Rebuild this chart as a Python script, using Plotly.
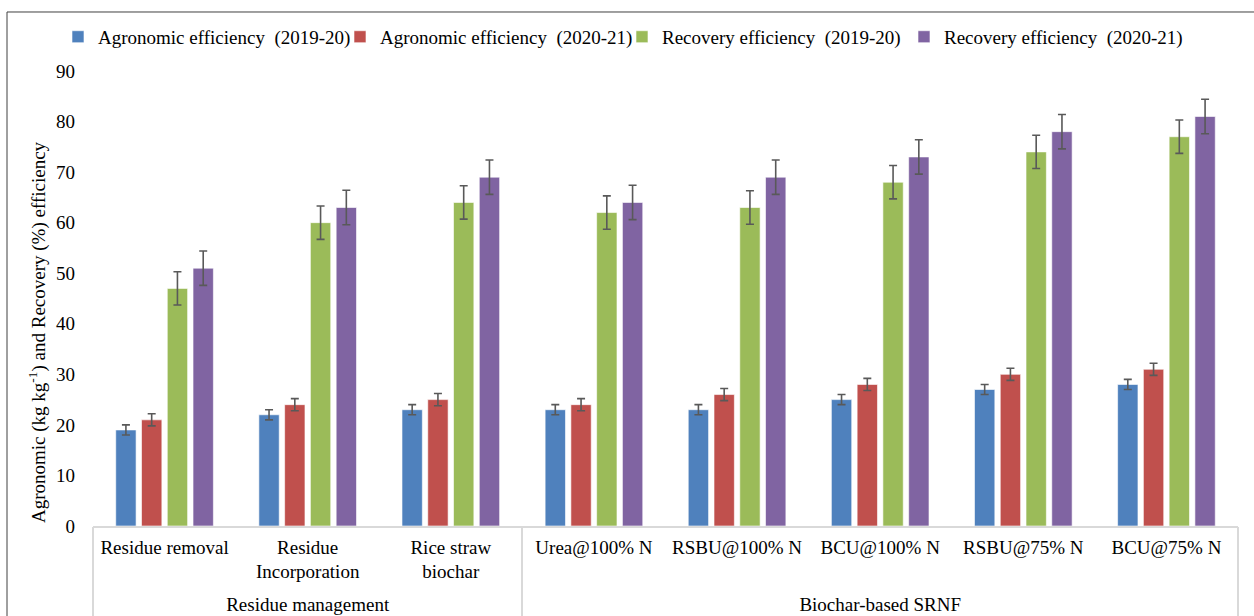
import plotly.graph_objects as go

# Treatments and the management group each belongs to
treatments = [
    "Residue removal",
    "Residue<br>Incorporation",
    "Rice straw<br>biochar",
    "Urea@100% N",
    "RSBU@100% N",
    "BCU@100% N",
    "RSBU@75% N",
    "BCU@75% N",
]
group_names = ["Residue management", "Biochar-based SRNF"]
group_sizes = [3, 5]

# Efficiency values per series
agro_2019 = [19, 22, 23, 23, 23, 25, 27, 28]
agro_2020 = [21, 24, 25, 24, 26, 28, 30, 31]
reco_2019 = [47, 60, 64, 62, 63, 68, 74, 77]
reco_2020 = [51, 63, 69, 64, 69, 73, 78, 81]

# Error bar half-lengths
agro_2019_err = [1.0] * 8
agro_2020_err = [1.2] * 8
reco_2019_err = [3.3] * 8
reco_2020_err = [3.4] * 8

NB = "\u00a0"
series = [
    (f"Agronomic efficiency{NB} (2019-20)", agro_2019, agro_2019_err, "#4F81BD"),
    (f"Agronomic efficiency{NB} (2020-21)", agro_2020, agro_2020_err, "#C0504D"),
    (f"Recovery efficiency{NB} (2019-20)", reco_2019, reco_2019_err, "#9BBB59"),
    (f"Recovery efficiency{NB} (2020-21)", reco_2020, reco_2020_err, "#8064A2"),
]

FONT = "Liberation Serif, Times New Roman, serif"
TXT = dict(family=FONT, size=19, color="#000000")
AXIS_GRAY = "#D9D9D9"

fig = go.Figure()
for name, vals, errs, color in series:
    fig.add_trace(go.Bar(
        name=name,
        x=treatments,
        y=vals,
        marker=dict(color=color, line=dict(color="rgba(255,255,255,0.6)", width=1)),
        error_y=dict(type="data", array=errs, visible=True,
                     color="#595959", thickness=1.6, width=4),
    ))

# Group positions on the category index scale: centres and boundaries
n_cat = len(treatments)
bounds = [-0.5]
for s in group_sizes:
    bounds.append(bounds[-1] + s)
centres = [(bounds[i] + bounds[i + 1]) / 2 for i in range(len(group_sizes))]

# Invisible helper trace so the group axis is drawn
fig.add_trace(go.Scatter(x=centres, y=[0, 0], xaxis="x2", yaxis="y",
                         mode="markers", marker=dict(opacity=0),
                         showlegend=False, hoverinfo="skip"))

fig.update_layout(
    width=1254,
    height=616,
    barmode="group",
    bargap=0.28,
    bargroupgap=0.21,
    paper_bgcolor="white",
    plot_bgcolor="white",
    margin=dict(l=93, r=16, t=71, b=90, autoexpand=False),
    font=TXT,
    legend=dict(
        orientation="h",
        x=0.462, xanchor="center",
        y=1.075, yanchor="middle",
        font=TXT,
        itemwidth=30,
        entrywidth=237,
        entrywidthmode="pixels",
        traceorder="normal",
    ),
    xaxis=dict(
        type="category",
        range=[-0.5, n_cat - 0.5],
        showline=True,
        linecolor=AXIS_GRAY,
        linewidth=1.5,
        ticks="",
        ticklabelstandoff=3,
        tickfont=TXT,
    ),
    xaxis2=dict(
        overlaying="x",
        anchor="y",
        side="bottom",
        range=[-0.5, n_cat - 0.5],
        showline=False,
        showgrid=False,
        zeroline=False,
        tickmode="array",
        tickvals=centres,
        ticktext=group_names,
        ticks="",
        ticklabelstandoff=65,
        tickfont=TXT,
        minor=dict(
            tickmode="array",
            tickvals=bounds,
            ticks="outside",
            ticklen=95,
            tickwidth=1.5,
            tickcolor=AXIS_GRAY,
            showgrid=False,
        ),
    ),
    yaxis=dict(
        range=[0, 90],
        dtick=10,
        showgrid=False,
        zeroline=False,
        showline=False,
        ticks="",
        ticklabelstandoff=17,
        tickfont=TXT,
    ),
    shapes=[
        dict(type="rect", xref="paper", yref="paper",
             x0=-0.0751, x1=1.0192, y0=-0.21, y1=1.1297,
             line=dict(color="#404040", width=1), fillcolor="rgba(0,0,0,0)",
             layer="below"),
    ],
    annotations=[
        dict(text="Agronomic (kg kg<sup>-1</sup>) and Recovery (%) efficiency",
             xref="paper", yref="paper",
             x=(37 - 93) / 1145, y=(526 - 332) / 455,
             xanchor="center", yanchor="middle",
             textangle=-90, showarrow=False,
             font=TXT),
    ],
)

fig.write_html("out.html")
